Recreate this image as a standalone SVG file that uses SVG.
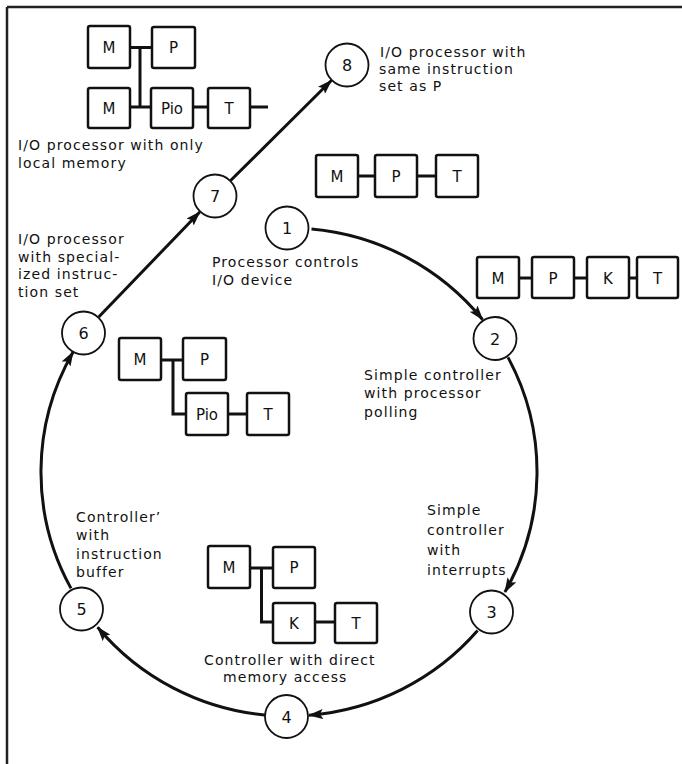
<svg xmlns="http://www.w3.org/2000/svg" width="682" height="764" viewBox="0 0 682 764">
  <defs>
    <marker id="arrow" viewBox="0 0 15 10" refX="14" refY="5" markerWidth="15" markerHeight="10" markerUnits="userSpaceOnUse" orient="auto">
      <path d="M0,0 L15,5 L0,10 L3,5 z" fill="#111"/>
    </marker>
  </defs>
  <style>
    .box { fill: #fff; stroke: #111; stroke-width: 2.5; }
    .bus { fill: none; stroke: #111; stroke-width: 3; }
    .node { fill: #fff; stroke: #111; stroke-width: 1.8; }
    .flow { fill: none; stroke: #111; stroke-width: 3; marker-end: url(#arrow); }
    .frame { fill: none; stroke: #222; stroke-width: 2.5; }
    .lbl { font-family: "DejaVu Sans", sans-serif; font-size: 14px; letter-spacing: 1.1px; fill: #111; }
    .blk { font-family: "DejaVu Sans", sans-serif; font-size: 15px; fill: #111; text-anchor: middle; }
    .num { font-family: "DejaVu Sans", sans-serif; font-size: 16px; fill: #111; text-anchor: middle; }
  </style>
  <rect width="682" height="764" fill="#fff"/>

  <!-- page frame: top and left rules -->
  <path class="frame" d="M7,7 H682 M7,7 V764"/>

  <!-- connectors of the evolution cycle -->
  <g id="connectors">
    <path class="flow" d="M311.5,229 A248,244 0 0 1 482.5,319.5"/>
    <path class="flow" d="M508,357.4 A248,244 0 0 1 504.9,592"/>
    <path class="flow" d="M477.6,630.5 A248,244 0 0 1 309,715.2"/>
    <path class="flow" d="M266.5,715.2 A248,244 0 0 1 97.6,627.2"/>
    <path class="flow" d="M71,588.4 A248,244 0 0 1 73.1,351.9"/>
    <path class="flow" d="M98.7,317 L199.8,212"/>
    <path class="flow" d="M230.6,180.5 L331.4,80.5"/>
  </g>

  <!-- stage 1: processor controls I/O device -->
  <g id="node-1">
    <circle class="node" cx="287" cy="228" r="21.5"/>
    <text class="num" x="287" y="234">1</text>
    <text class="lbl" x="212" y="267">Processor controls</text>
    <text class="lbl" x="212" y="285">I/O  device</text>
  </g>
  <g id="config-1">
    <line class="bus" x1="358" y1="176" x2="375" y2="176"/>
    <line class="bus" x1="417" y1="176" x2="436" y2="176"/>
    <rect class="box" x="316" y="155" width="42" height="42" rx="2"/>
    <rect class="box" x="375" y="155" width="42" height="42" rx="2"/>
    <rect class="box" x="436" y="155" width="42" height="42" rx="2"/>
    <text class="blk" x="337" y="182">M</text>
    <text class="blk" x="396" y="182">P</text>
    <text class="blk" x="457" y="182">T</text>
  </g>

  <!-- stage 2: simple controller with polling -->
  <g id="node-2">
    <circle class="node" cx="495" cy="338.5" r="21.5"/>
    <text class="num" x="495" y="344.5">2</text>
    <text class="lbl" x="364" y="380">Simple controller</text>
    <text class="lbl" x="364" y="398">with processor</text>
    <text class="lbl" x="364" y="417">polling</text>
  </g>
  <g id="config-2">
    <line class="bus" x1="519" y1="278" x2="532" y2="278"/>
    <line class="bus" x1="574" y1="278" x2="587" y2="278"/>
    <line class="bus" x1="629" y1="278" x2="637" y2="278"/>
    <rect class="box" x="477" y="257" width="42" height="41" rx="2"/>
    <rect class="box" x="532" y="257" width="42" height="41" rx="2"/>
    <rect class="box" x="587" y="257" width="42" height="41" rx="2"/>
    <rect class="box" x="637" y="257" width="41" height="41" rx="2"/>
    <text class="blk" x="498" y="283.5">M</text>
    <text class="blk" x="553" y="283.5">P</text>
    <text class="blk" x="608" y="283.5">K</text>
    <text class="blk" x="657.5" y="283.5">T</text>
  </g>

  <!-- stage 3: simple controller with interrupts -->
  <g id="node-3">
    <circle class="node" cx="491.5" cy="612" r="21.5"/>
    <text class="num" x="491.5" y="618">3</text>
    <text class="lbl" x="427" y="515">Simple</text>
    <text class="lbl" x="427" y="535">controller</text>
    <text class="lbl" x="427" y="555">with</text>
    <text class="lbl" x="427" y="575">interrupts</text>
  </g>

  <!-- stage 4: direct memory access -->
  <g id="node-4">
    <circle class="node" cx="286.5" cy="716.5" r="21.5"/>
    <text class="num" x="286.5" y="722.5">4</text>
    <text class="lbl" x="204" y="665">Controller with direct</text>
    <text class="lbl" x="223" y="682">memory access</text>
  </g>
  <g id="config-4">
    <polyline class="bus" points="250,568 273,568"/>
    <polyline class="bus" points="261.5,568 261.5,622 273,622"/>
    <line class="bus" x1="315" y1="622" x2="335" y2="622"/>
    <rect class="box" x="208" y="546" width="42" height="42" rx="2"/>
    <rect class="box" x="273" y="547" width="42" height="41" rx="2"/>
    <rect class="box" x="273" y="603" width="42" height="40" rx="2"/>
    <rect class="box" x="335" y="603" width="42" height="40" rx="2"/>
    <text class="blk" x="229" y="572.5">M</text>
    <text class="blk" x="294" y="573">P</text>
    <text class="blk" x="294" y="628.5">K</text>
    <text class="blk" x="356" y="628.5">T</text>
  </g>

  <!-- stage 5: controller with instruction buffer -->
  <g id="node-5">
    <circle class="node" cx="81.5" cy="609" r="21.5"/>
    <text class="num" x="81.5" y="615">5</text>
    <text class="lbl" x="76" y="522">Controller’</text>
    <text class="lbl" x="76" y="540">with</text>
    <text class="lbl" x="76" y="558.5">instruction</text>
    <text class="lbl" x="76" y="577">buffer</text>
  </g>

  <!-- stage 6: I/O processor with specialized instruction set -->
  <g id="node-6">
    <circle class="node" cx="83.5" cy="333" r="21.5"/>
    <text class="num" x="83.5" y="339">6</text>
    <text class="lbl" x="18" y="244">I/O processor</text>
    <text class="lbl" x="18" y="262">with special-</text>
    <text class="lbl" x="18" y="279">ized instruc-</text>
    <text class="lbl" x="18" y="297">tion set</text>
  </g>
  <g id="config-6">
    <line class="bus" x1="161" y1="360" x2="183" y2="360"/>
    <polyline class="bus" points="173,360 173,414 186,414"/>
    <line class="bus" x1="228" y1="414" x2="247" y2="414"/>
    <rect class="box" x="119" y="338" width="42" height="42" rx="2"/>
    <rect class="box" x="183" y="338" width="43" height="42" rx="2"/>
    <rect class="box" x="186" y="393" width="42" height="42" rx="2"/>
    <rect class="box" x="247" y="393" width="42" height="42" rx="2"/>
    <text class="blk" x="140" y="364.5">M</text>
    <text class="blk" x="204.5" y="364.5">P</text>
    <text class="blk" x="207" y="419.5">Pio</text>
    <text class="blk" x="268" y="419.5">T</text>
  </g>

  <!-- stage 7: I/O processor with only local memory -->
  <g id="node-7">
    <circle class="node" cx="215" cy="196" r="21.5"/>
    <text class="num" x="215" y="202">7</text>
    <text class="lbl" x="18" y="150">I/O processor with only</text>
    <text class="lbl" x="18" y="168">local memory</text>
  </g>
  <g id="config-7">
    <line class="bus" x1="130" y1="47.5" x2="152" y2="47.5"/>
    <line class="bus" x1="140" y1="47.5" x2="140" y2="107"/>
    <line class="bus" x1="130" y1="107" x2="151" y2="107"/>
    <line class="bus" x1="193" y1="107" x2="208" y2="107"/>
    <line class="bus" x1="250" y1="107" x2="268" y2="107"/>
    <rect class="box" x="88" y="26" width="42" height="42" rx="2"/>
    <rect class="box" x="152" y="27" width="43" height="41" rx="2"/>
    <rect class="box" x="88" y="88" width="42" height="40" rx="2"/>
    <rect class="box" x="151" y="88" width="42" height="40" rx="2"/>
    <rect class="box" x="208" y="88" width="42" height="40" rx="2"/>
    <text class="blk" x="109" y="52.5">M</text>
    <text class="blk" x="173.5" y="53">P</text>
    <text class="blk" x="109" y="113.5">M</text>
    <text class="blk" x="172" y="113.5">Pio</text>
    <text class="blk" x="229" y="113.5">T</text>
  </g>

  <!-- stage 8: I/O processor with same instruction set as P -->
  <g id="node-8">
    <circle class="node" cx="347" cy="65" r="21.5"/>
    <text class="num" x="347" y="71">8</text>
    <text class="lbl" x="380" y="57">I/O  processor with</text>
    <text class="lbl" x="379" y="74">same instruction</text>
    <text class="lbl" x="379" y="91">set as P</text>
  </g>
</svg>
